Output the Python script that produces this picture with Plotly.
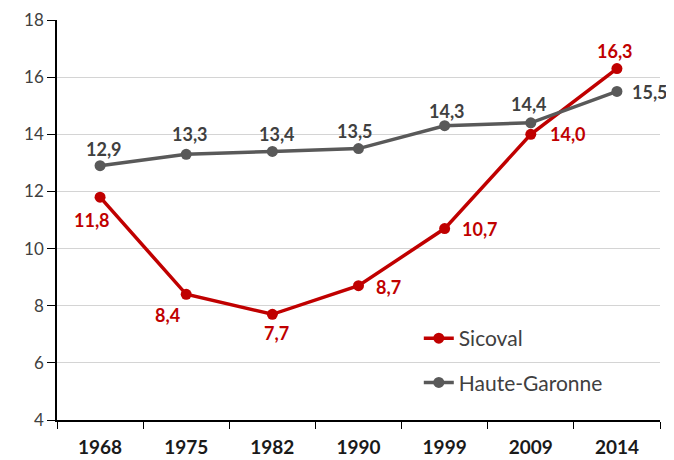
import plotly.graph_objects as go

years = ["1968", "1975", "1982", "1990", "1999", "2009", "2014"]
sicoval = [11.8, 8.4, 7.7, 8.7, 10.7, 14.0, 16.3]
haute_garonne = [12.9, 13.3, 13.4, 13.5, 14.3, 14.4, 15.5]
sicoval_labels = ["11,8", "8,4", "7,7", "8,7", "10,7", "14,0", "16,3"]
hg_labels = ["12,9", "13,3", "13,4", "13,5", "14,3", "14,4", "15,5"]
y_ticks = [4, 6, 8, 10, 12, 14, 16, 18]

# label offsets in pixels (dx, dy; dy positive = downward)
sicoval_offsets = [(-8, 23), (-19, 21), (4, 19), (30, 1), (35, 0), (37, 0), (-2, -18)]
hg_offsets = [(4, -17), (4, -20), (5, -17), (-4, -18), (2, -15), (-2, -19), (33, 1)]

RED = "#C00000"
GRAY = "#595959"
FONT = "Lato"

fig = go.Figure()
fig.add_trace(go.Scatter(
    x=years, y=sicoval, name="Sicoval", mode="lines+markers",
    line=dict(color=RED, width=3.5), marker=dict(color=RED, size=11),
    legendgroup="a", cliponaxis=False,
))
fig.add_trace(go.Scatter(
    x=years, y=haute_garonne, name="Haute-Garonne", mode="lines+markers",
    line=dict(color=GRAY, width=3.5), marker=dict(color=GRAY, size=11),
    legendgroup="b", cliponaxis=False,
))

annotations = []
for ys, labels, offs, col in [
    (sicoval, sicoval_labels, sicoval_offsets, RED),
    (haute_garonne, hg_labels, hg_offsets, "#404040"),
]:
    for i, (yv, t, (dx, dy)) in enumerate(zip(ys, labels, offs)):
        annotations.append(dict(
            x=i, y=yv, xref="x", yref="y", text=t, showarrow=False,
            xshift=dx, yshift=-dy, xanchor="center", yanchor="middle",
            font=dict(family=FONT, size=18, color=col, weight="bold"),
        ))

fig.update_layout(
    width=674, height=460,
    margin=dict(l=49, r=22, t=12, b=48, autoexpand=False),
    plot_bgcolor="white", paper_bgcolor="white",
    font=dict(family=FONT, color="#404040"),
    annotations=annotations,
    legend=dict(x=0.60, y=0.255, xanchor="left", yanchor="top",
                bgcolor="rgba(0,0,0,0)", font=dict(size=21, color="#404040"),
                tracegroupgap=14),
    xaxis=dict(type="category", showline=True, linecolor="black", linewidth=1.5,
               ticks="outside", tickson="boundaries", ticklen=7, tickcolor="black",
               ticklabelstandoff=9,
               tickfont=dict(family=FONT, size=19, color="#1a1a1a", weight="bold"),
               showgrid=False, range=[-0.5, 6.5], automargin=False),
    yaxis=dict(range=[4, 18], tickvals=y_ticks, showline=True, linecolor="black",
               linewidth=1.5, ticks="outside", ticklen=8, tickcolor="black",
               gridcolor="#d4d4d4", gridwidth=1, zeroline=False, automargin=False,
               tickfont=dict(family=FONT, size=17, color="#404040")),
)

fig.write_html("out.html")
